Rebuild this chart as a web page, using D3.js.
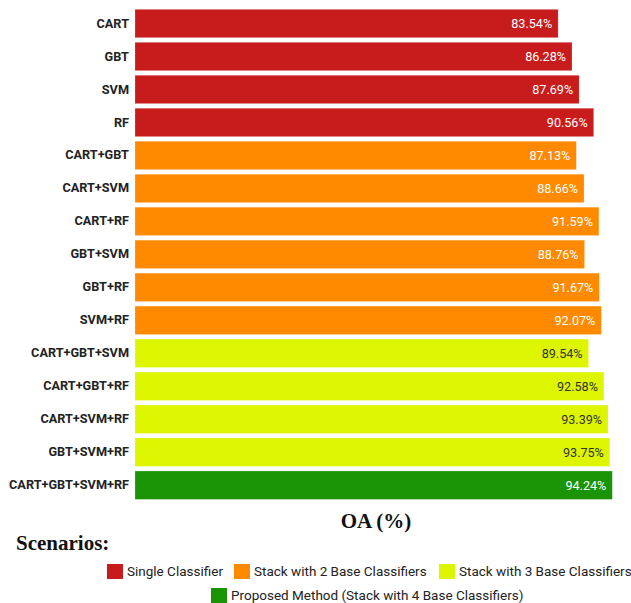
<!DOCTYPE html>
<html>
<head>
<meta charset="utf-8">
<script src="https://cdn.jsdelivr.net/npm/d3@7/dist/d3.min.js"></script>
<style>
  html, body { margin: 0; padding: 0; background: #fff; }
  svg { display: block; }
</style>
</head>
<body>
<svg id="chart" width="631" height="603"></svg>
<script>
// Overall accuracy of each classifier / stacking combination
const categories = [
  "CART", "GBT", "SVM", "RF",
  "CART+GBT", "CART+SVM", "CART+RF", "GBT+SVM", "GBT+RF", "SVM+RF",
  "CART+GBT+SVM", "CART+GBT+RF", "CART+SVM+RF", "GBT+SVM+RF",
  "CART+GBT+SVM+RF"
];
const oaValues = [
  83.54, 86.28, 87.69, 90.56,
  87.13, 88.66, 91.59, 88.76, 91.67, 92.07,
  89.54, 92.58, 93.39, 93.75,
  94.24
];
const groupOf = [
  0, 0, 0, 0,
  1, 1, 1, 1, 1, 1,
  2, 2, 2, 2,
  3
];
const groupNames = [
  "Single Classifier",
  "Stack with 2 Base Classifiers",
  "Stack with 3 Base Classifiers",
  "Proposed Method (Stack with 4 Base Classifiers)"
];
const groupColors = ["#C81C1C", "#FF8A00", "#DDF600", "#1A9405"];
const labelColors = ["#ffffff", "#ffffff", "#333333", "#ffffff"];

const rows = categories.map((c, i) => ({ name: c, value: oaValues[i], group: groupOf[i] }));

const svg = d3.select("#chart");

const x = d3.scaleLinear().domain([0, 100]).range([135, 641.5]);
const y = d3.scaleBand()
  .domain(categories)
  .range([9.3, 499.4])
  .paddingInner(0.139)
  .paddingOuter(0);

// bars
svg.append("g")
  .selectAll("rect")
  .data(rows)
  .join("rect")
  .attr("x", x(0))
  .attr("y", d => y(d.name))
  .attr("width", d => x(d.value) - x(0))
  .attr("height", y.bandwidth())
  .attr("fill", d => groupColors[d.group])
  .attr("stroke", "#ffffff")
  .attr("stroke-opacity", 0.35)
  .attr("stroke-width", 0.6);

// value labels inside bar ends
svg.append("g")
  .selectAll("text")
  .data(rows)
  .join("text")
  .attr("x", d => x(d.value) - 6)
  .attr("y", d => y(d.name) + y.bandwidth() / 2)
  .attr("dy", "0.36em")
  .attr("text-anchor", "end")
  .attr("font-family", "Roboto, sans-serif")
  .attr("font-size", 12.6)
  .attr("fill", d => labelColors[d.group])
  .text(d => d.value.toFixed(2) + "%");

// category axis
const yAxis = d3.axisLeft(y).tickSize(0).tickPadding(6);
const ga = svg.append("g").attr("transform", `translate(${x(0)},0)`).call(yAxis);
ga.select(".domain").remove();
ga.selectAll("text")
  .attr("font-family", "Roboto, sans-serif")
  .attr("font-size", 12.7)
  .attr("font-weight", "bold")
  .attr("fill", "#222");

// axis title
svg.append("text")
  .attr("x", 376)
  .attr("y", 528)
  .attr("text-anchor", "middle")
  .attr("font-family", "'Liberation Serif', 'Times New Roman', serif")
  .attr("font-weight", "bold")
  .attr("font-size", 21)
  .attr("fill", "#111")
  .text("OA (%)");

// legend
svg.append("text")
  .attr("x", 16)
  .attr("y", 550)
  .attr("font-family", "'Liberation Serif', 'Times New Roman', serif")
  .attr("font-weight", "bold")
  .attr("font-size", 21)
  .attr("fill", "#111")
  .text("Scenarios:");

const legendPos = [
  { x: 107, y: 564 },
  { x: 234, y: 564 },
  { x: 439, y: 564 },
  { x: 211, y: 588 }
];
const lg = svg.append("g")
  .selectAll("g")
  .data(groupNames)
  .join("g")
  .attr("transform", (d, i) => `translate(${legendPos[i].x},${legendPos[i].y})`);
lg.append("rect")
  .attr("width", 16)
  .attr("height", 15)
  .attr("fill", (d, i) => groupColors[i]);
lg.append("text")
  .attr("x", 20)
  .attr("y", 7.5)
  .attr("dy", "0.36em")
  .attr("font-family", "Roboto, sans-serif")
  .attr("font-size", 13.5)
  .attr("fill", "#222")
  .text(d => d);
</script>
</body>
</html>
